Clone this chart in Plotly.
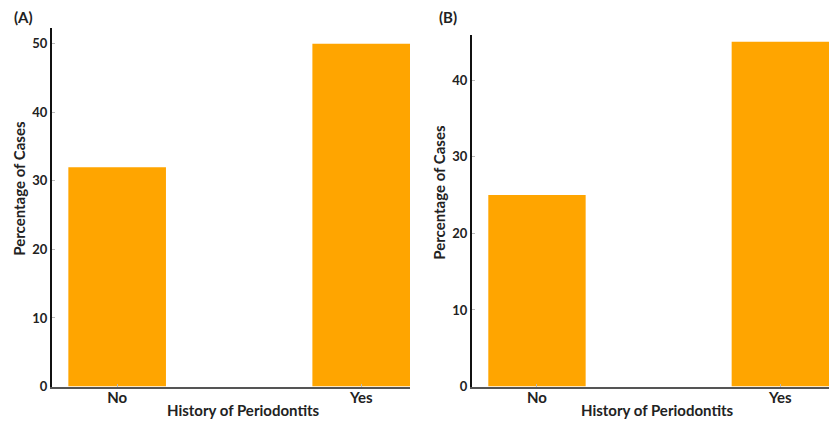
import plotly.graph_objects as go
from plotly.subplots import make_subplots

categories = ["No", "Yes"]
values_a = [32, 50]
values_b = [25, 45]
yticks_a = [0, 10, 20, 30, 40, 50]
yticks_b = [0, 10, 20, 30, 40]

W, H = 831, 421
H_EFF = 413.5   # effective height observed in the rendered picture
BAR = "#FFA500"
TXT = "#222222"
FONT = "Lato"

def px_x(x):
    return x / W

def px_y(y):
    return 1 - y / H_EFF

fig = make_subplots(rows=1, cols=2)
fig.add_trace(go.Bar(x=categories, y=values_a, marker_color=BAR, width=0.4,
                     marker_line_width=0, showlegend=False), row=1, col=1)
fig.add_trace(go.Bar(x=categories, y=values_b, marker_color=BAR, width=0.4,
                     marker_line_width=0, showlegend=False), row=1, col=2)

common_x = dict(range=[-0.267, 1.2], showgrid=False, zeroline=False,
                showline=True, linecolor="#555555", linewidth=2,
                ticks="inside", ticklen=3, tickcolor="#bbbbbb",
                ticklabelstandoff=-4,
                tickfont=dict(family=FONT, size=15, color=TXT, weight="bold"))
common_y = dict(showgrid=False, zeroline=False, showline=True,
                linecolor="#111111", linewidth=2,
                ticks="inside", ticklen=3, tickcolor="#bbbbbb",
                tickfont=dict(family=FONT, size=13, color=TXT, weight="bold"))

fig.update_xaxes(domain=[px_x(52), px_x(410)], **common_x, row=1, col=1)
fig.update_xaxes(domain=[px_x(472), px_x(829)], **common_x, row=1, col=2)
fig.update_yaxes(domain=[px_y(387), px_y(28)], range=[0, 52.3],
                 tickvals=yticks_a, **common_y, row=1, col=1)
fig.update_yaxes(domain=[px_y(387), px_y(35)], range=[0, 45.9],
                 tickvals=yticks_b, **common_y, row=1, col=2)

ann_font = dict(family=FONT, size=15, color=TXT, weight="bold")
annotations = [
    dict(text="(A)", x=px_x(12), y=px_y(17), xanchor="left", yanchor="middle",
         font=dict(family=FONT, size=15, color=TXT, weight="bold")),
    dict(text="(B)", x=px_x(437), y=px_y(17), xanchor="left", yanchor="middle",
         font=dict(family=FONT, size=15, color=TXT, weight="bold")),
    dict(text="History of Periodontits", x=px_x(244), y=px_y(410),
         xanchor="center", yanchor="middle", font=ann_font),
    dict(text="History of Periodontits", x=px_x(657), y=px_y(410),
         xanchor="center", yanchor="middle", font=ann_font),
    dict(text="Percentage of Cases", x=px_x(19), y=px_y(189), textangle=-90,
         xanchor="center", yanchor="middle", font=ann_font),
    dict(text="Percentage of Cases", x=px_x(439), y=px_y(193), textangle=-90,
         xanchor="center", yanchor="middle", font=ann_font),
]
for a in annotations:
    a.update(xref="paper", yref="paper", showarrow=False)

fig.update_layout(width=W, height=H, margin=dict(l=0, r=0, t=0, b=0),
                  paper_bgcolor="white", plot_bgcolor="white",
                  annotations=annotations, bargap=0.6)

reset_css = (
    "var s=document.createElement('style');"
    "s.textContent='html,body{margin:0;padding:0;overflow:hidden;height:421px;}';"
    "document.head.appendChild(s);"
)
fig.write_html("out.html", config={"displayModeBar": False},
               post_script=reset_css)
